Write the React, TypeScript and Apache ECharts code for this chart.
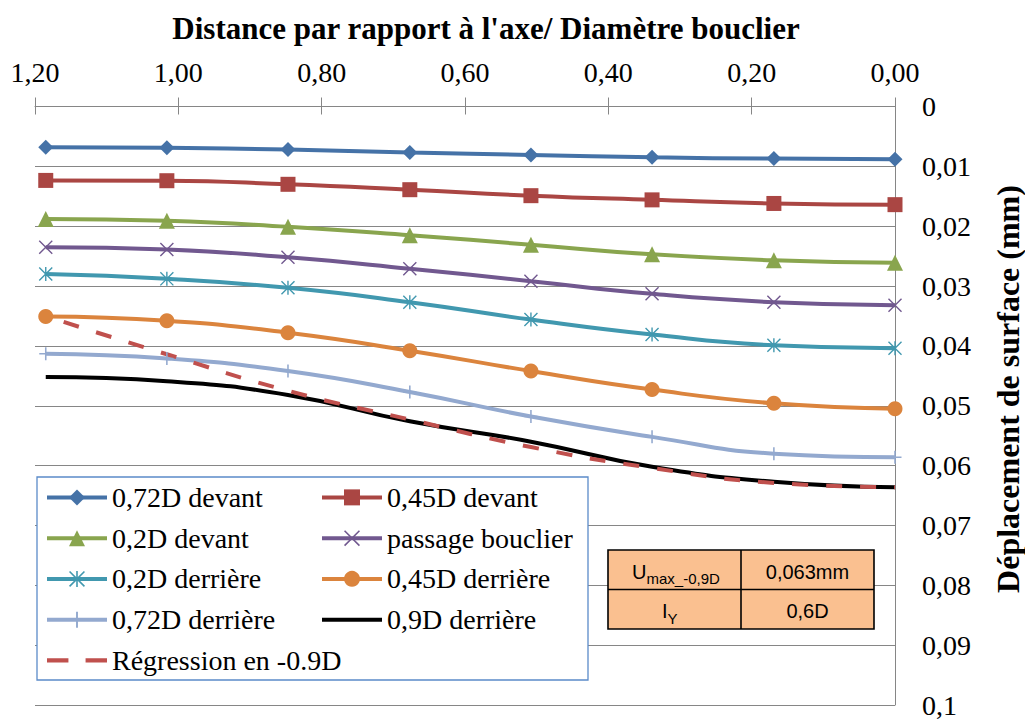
import React, { useEffect, useRef } from 'react';
import * as echarts from 'echarts';

// ---- data ----
const xPositions = [1.185, 1.016, 0.847, 0.677, 0.508, 0.339, 0.169, 0];
const xRegression = [1.16, 1.016, 0.847, 0.677, 0.508, 0.339, 0.169, 0];

const devant072 = [0.0068, 0.0069, 0.0072, 0.0077, 0.0081, 0.0085, 0.0087, 0.0088];
const devant045 = [0.01235, 0.0124, 0.013, 0.0139, 0.0149, 0.0156, 0.0162, 0.0164];
const devant02 = [0.0188, 0.0191, 0.0201, 0.0215, 0.0231, 0.0247, 0.0257, 0.0261];
const passageBouclier = [0.0235, 0.0239, 0.0252, 0.0271, 0.0292, 0.0313, 0.0327, 0.0332];
const derriere02 = [0.028, 0.0288, 0.0303, 0.0327, 0.0356, 0.0381, 0.0399, 0.0404];
const derriere045 = [0.0351, 0.0358, 0.0378, 0.0408, 0.0442, 0.0473, 0.0496, 0.0505];
const derriere072 = [0.0413, 0.0421, 0.0442, 0.0477, 0.0518, 0.0552, 0.058, 0.0586];
const derriere09 = [0.0452, 0.0459, 0.0482, 0.0526, 0.056, 0.0602, 0.0627, 0.0636];
const regression09 = [0.036, 0.0414, 0.0475, 0.0523, 0.0569, 0.0604, 0.0629, 0.0636];

const seriesNames = [
  '0,72D devant',
  '0,45D devant',
  '0,2D devant',
  'passage bouclier',
  '0,2D derrière',
  '0,45D derrière',
  '0,72D derrière',
  '0,9D derrière',
  'Régression en -0.9D',
];

const xTickLabels = ['0,00', '0,20', '0,40', '0,60', '0,80', '1,00', '1,20'];
const yTickLabels = ['0', '0,01', '0,02', '0,03', '0,04', '0,05', '0,06', '0,07', '0,08', '0,09', '0,1'];

const xAxisTitle = "Distance par rapport à l'axe/ Diamètre bouclier";
const yAxisTitle = 'Déplacement de surface (mm)';

const tableLabelMain = ['U', 'I'];
const tableLabelSub = ['max_-0,9D', 'Y'];
const tableValues = ['0,063mm', '0,6D'];

// ---- styles ----
const SERIF = 'Liberation Serif';
const SANS = 'Liberation Sans';
const GRID_GRAY = '#868686';
const LINE_W = 4;

const X_PATH = 'path://M0,0.7L0.7,0L10,9.3L9.3,10Z M9.3,0L10,0.7L0.7,10L0,9.3Z';
const STAR_PATH = 'path://M0,0.7L0.7,0L10,9.3L9.3,10Z M9.3,0L10,0.7L0.7,10L0,9.3Z M4.5,0L5.5,0L5.5,10L4.5,10Z';
const PLUS_PATH = 'path://M4.4,0L5.6,0L5.6,10L4.4,10Z M0,4.4L10,4.4L10,5.6L0,5.6Z';
const SOLID_ICON = 'path://M0,0L60,0L60,4L0,4Z';
const DASH_ICON = 'path://M0,0L20,0L20,4L0,4Z M36,0L56,0L56,4L36,4Z';

function makeSeries(
  name: string,
  xs: number[],
  ys: number[],
  color: string,
  symbol: string,
  symbolSize: number,
  dashed?: boolean
) {
  return {
    type: 'line',
    name,
    data: xs.map((x, i) => [x, ys[i]]),
    smooth: true,
    symbol,
    symbolSize,
    showSymbol: symbol !== 'none',
    clip: false,
    silent: true,
    lineStyle: { color, width: LINE_W, type: dashed ? [16, 18] : 'solid', cap: 'butt' },
    itemStyle: { color },
    emphasis: { disabled: true },
  };
}

export default function App() {
  const ref = useRef<HTMLDivElement>(null);

  useEffect(() => {
    if (!ref.current) return;
    const chart = echarts.init(ref.current, undefined, { renderer: 'svg' });

    const series = [
      makeSeries(seriesNames[0], xPositions, devant072, '#4572A7', 'diamond', 15),
      makeSeries(seriesNames[1], xPositions, devant045, '#AA4643', 'rect', 15),
      makeSeries(seriesNames[2], xPositions, devant02, '#89A54E', 'triangle', 16),
      makeSeries(seriesNames[3], xPositions, passageBouclier, '#71588F', X_PATH, 14),
      makeSeries(seriesNames[4], xPositions, derriere02, '#4198AF', STAR_PATH, 14),
      makeSeries(seriesNames[5], xPositions, derriere045, '#DB843D', 'circle', 15),
      makeSeries(seriesNames[6], xPositions, derriere072, '#93A9CF', PLUS_PATH, 13),
      makeSeries(seriesNames[7], xPositions, derriere09, '#000000', 'none', 0),
      makeSeries(seriesNames[8], xRegression, regression09, '#C0504D', 'none', 0, true),
    ];

    const legendCommon = {
      orient: 'vertical',
      padding: 0,
      itemGap: 0,
      itemWidth: 60,
      itemHeight: 20,
      selectedMode: false,
      lineStyle: { width: LINE_W },
      textStyle: { fontFamily: SERIF, fontSize: 28, color: '#000', lineHeight: 40.75 },
      z: 6,
    };

    const tableLeft = 608;
    const tableTop = 550;
    const tableMid = 741;
    const tableRight = 874;
    const rowH = 39.5;

    const graphic: any[] = [
      {
        type: 'text',
        x: 486,
        y: 28,
        style: {
          text: xAxisTitle,
          fontFamily: SERIF,
          fontWeight: 'bold',
          fontSize: 31,
          fill: '#000',
          align: 'center',
          verticalAlign: 'middle',
        },
      },
      {
        type: 'text',
        x: 1008,
        y: 389,
        rotation: Math.PI / 2,
        style: {
          text: yAxisTitle,
          fontFamily: SERIF,
          fontWeight: 'bold',
          fontSize: 32,
          fill: '#000',
          align: 'center',
          verticalAlign: 'middle',
        },
      },
      {
        type: 'rect',
        z: 3,
        shape: { x: 37, y: 477, width: 551, height: 203 },
        style: { fill: '#fff', stroke: '#5B8BC9', lineWidth: 1.3 },
      },
      {
        type: 'rect',
        z: 10,
        shape: { x: tableLeft, y: tableTop, width: tableRight - tableLeft, height: rowH * 2 },
        style: { fill: '#FAC090', stroke: '#000', lineWidth: 1.6 },
      },
      {
        type: 'line',
        z: 11,
        shape: { x1: tableMid, y1: tableTop, x2: tableMid, y2: tableTop + rowH * 2 },
        style: { stroke: '#000', lineWidth: 1.6 },
      },
      {
        type: 'line',
        z: 11,
        shape: { x1: tableLeft, y1: tableTop + rowH, x2: tableRight, y2: tableTop + rowH },
        style: { stroke: '#000', lineWidth: 1.6 },
      },
    ];

    const mainX = [632, 662];
    const subX = [646.5, 667.5];
    for (let r = 0; r < 2; r++) {
      const cy = tableTop + rowH * r + rowH / 2 + 2;
      graphic.push({
        type: 'text',
        z: 12,
        x: mainX[r],
        y: cy,
        style: { text: tableLabelMain[r], fontFamily: SANS, fontSize: 20, fill: '#000', align: 'left', verticalAlign: 'middle' },
      });
      graphic.push({
        type: 'text',
        z: 12,
        x: subX[r],
        y: cy + 7,
        style: { text: tableLabelSub[r], fontFamily: SANS, fontSize: 15, fill: '#000', align: 'left', verticalAlign: 'middle' },
      });
      graphic.push({
        type: 'text',
        z: 12,
        x: (tableMid + tableRight) / 2,
        y: cy,
        style: { text: tableValues[r], fontFamily: SANS, fontSize: 20, fill: '#000', align: 'center', verticalAlign: 'middle' },
      });
    }

    chart.setOption({
      animation: false,
      grid: { left: 35, right: 130, top: 106.5, bottom: 15, outerBoundsMode: 'none' },
      xAxis: [
        {
          type: 'value',
          position: 'top',
          inverse: true,
          min: 0,
          max: 1.2,
          interval: 0.2,
          axisLine: { show: true, lineStyle: { color: GRID_GRAY, width: 1 } },
          axisTick: { show: true, inside: false, length: 9, lineStyle: { color: GRID_GRAY } },
          axisLabel: {
            margin: 20,
            fontFamily: SERIF,
            fontSize: 28,
            color: '#000',
            formatter: (v: number) => xTickLabels[Math.round(v / 0.2)],
          },
          splitLine: { show: false },
        },
        {
          type: 'value',
          position: 'top',
          inverse: true,
          min: 0,
          max: 1.2,
          interval: 0.2,
          axisLine: { show: false },
          axisTick: { show: true, inside: true, length: 8, lineStyle: { color: GRID_GRAY } },
          axisLabel: { show: false },
          splitLine: { show: false },
        },
      ],
      yAxis: {
        type: 'value',
        position: 'right',
        inverse: true,
        min: 0,
        max: 0.1,
        interval: 0.01,
        axisLine: { show: true, lineStyle: { color: GRID_GRAY, width: 1 } },
        axisTick: { show: false },
        axisLabel: {
          margin: 27,
          fontFamily: SERIF,
          fontSize: 28,
          color: '#000',
          formatter: (v: number) => yTickLabels[Math.round(v / 0.01)],
        },
        splitLine: { show: true, lineStyle: { color: GRID_GRAY, width: 1 } },
      },
      legend: [
        {
          ...legendCommon,
          left: 45,
          top: 477,
          data: [
            seriesNames[0],
            seriesNames[2],
            seriesNames[4],
            seriesNames[6],
            { name: seriesNames[8], icon: DASH_ICON },
          ],
        },
        {
          ...legendCommon,
          left: 320,
          top: 477,
          data: [
            seriesNames[1],
            seriesNames[3],
            seriesNames[5],
            { name: seriesNames[7], icon: SOLID_ICON },
          ],
        },
      ],
      graphic,
      series,
    });

    return () => chart.dispose();
  }, []);

  return (
    <div
      ref={ref}
      style={{ position: 'fixed', left: 0, top: 0, width: 1025, height: 720, background: '#fff' }}
    />
  );
}
